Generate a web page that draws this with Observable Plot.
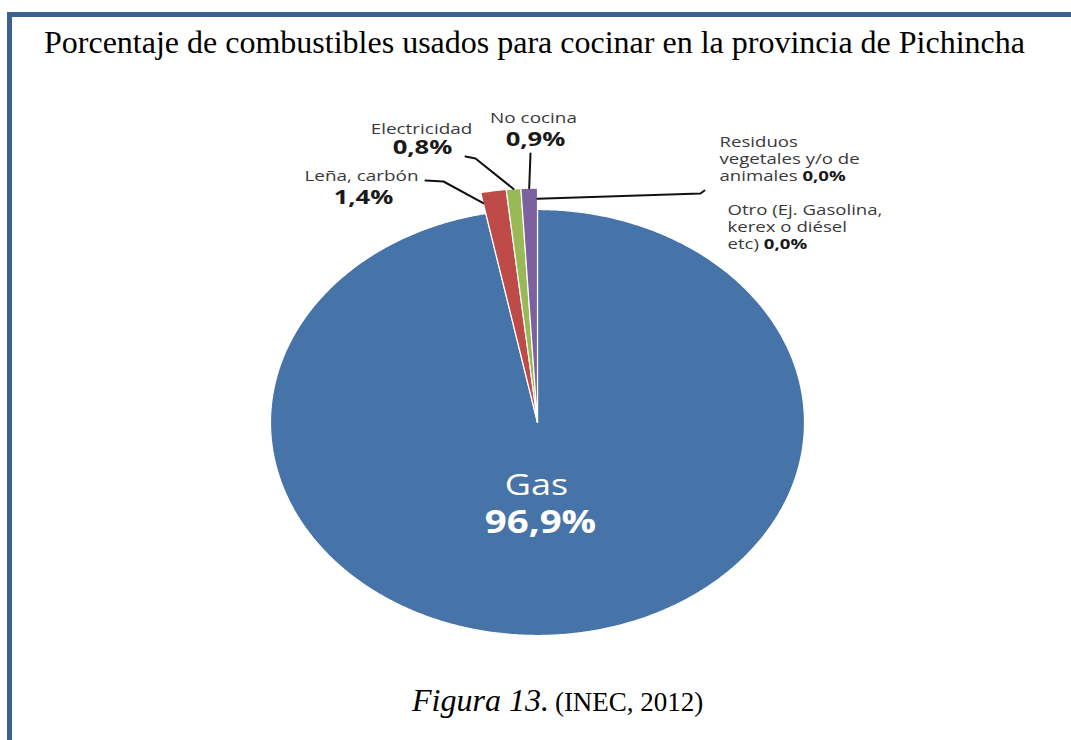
<!DOCTYPE html>
<html><head><meta charset="utf-8">
<script src="https://cdn.jsdelivr.net/npm/d3@7"></script>
<script src="https://cdn.jsdelivr.net/npm/@observablehq/plot@0.6"></script>
<style>
body{margin:0;background:#fff;}
#page{position:relative;width:1071px;height:740px;overflow:hidden;background:#fff;}
.bar{position:absolute;background:#3B6190;}
#chart{position:absolute;left:0;top:0;}
#title{position:absolute;left:44px;top:26px;font-family:"Liberation Serif","Times New Roman",serif;font-size:32px;line-height:32px;color:#000;white-space:nowrap;}
#caption{position:absolute;left:412px;top:684px;font-family:"Liberation Serif","Times New Roman",serif;line-height:32px;color:#000;white-space:nowrap;}
</style></head>
<body><div id="page">
<div class="bar" style="left:7px;top:12px;width:1064px;height:5px"></div>
<div class="bar" style="left:7px;top:12px;width:5px;height:728px"></div>
<div id="chart"></div>
<div id="title">Porcentaje de combustibles usados para cocinar en la provincia de Pichincha</div>
<div id="caption"><i style="font-size:32px">Figura 13.</i> <span style="font-size:27px;margin-left:2px">(INEC, 2012)</span></div>
</div>
<script>
// ---- data ----
const categories = ["Gas", "Leña, carbón", "Electricidad", "No cocina", "Residuos vegetales y/o de animales", "Otro (Ej. Gasolina, kerex o diésel etc)"];
const values = [96.9, 1.4, 0.8, 0.9, 0.0, 0.0];
const valueLabels = ["96,9%", "1,4%", "0,8%", "0,9%", "0,0%", "0,0%"];
const nameLines = ["Gas", "Leña, carbón", "Electricidad", "No cocina", "Residuos\nvegetales y/o de\nanimales", "Otro (Ej. Gasolina,\nkerex o diésel\netc)"];

// ---- styles / layout ----
const colors = ["#4774A8", "#BE4B48", "#98B954", "#7D60A0", "#4BACC6", "#F79646"];
const W = 1071, H = 740, cx = 537, cy = 422, rx = 267, ry = 213;
const px2x = p => (p - cx) / rx;
const py2y = p => (cy - p) / ry;
const mainRadius = 1.0, smallRadius = 1.1;

// slice geometry from values
const total = d3.sum(values);
let acc = 0;
const slices = categories.map((c, i) => {
  const a0 = acc / total * 2 * Math.PI; acc += values[i];
  const a1 = acc / total * 2 * Math.PI;
  return {cat: c, i, a0, a1, mid: (a0 + a1) / 2, r: i === 0 ? mainRadius : smallRadius};
});
const polar = (a, r) => ({x: r * Math.sin(a), y: r * Math.cos(a)});

const slicePts = [];
for (const s of slices) {
  if (s.a1 - s.a0 <= 0) continue;
  const n = Math.max(3, Math.ceil((s.a1 - s.a0) / (Math.PI / 360)));
  slicePts.push({cat: s.cat, x: 0, y: 0});
  for (let k = 0; k <= n; ++k) {
    const p = polar(s.a0 + (s.a1 - s.a0) * k / n, s.r);
    slicePts.push({cat: s.cat, ...p});
  }
  slicePts.push({cat: s.cat, x: 0, y: 0});
}

// label placement (pixels)
const labelLayout = [
  {i: 0, nx: 536, ny: 485, vx: 540, vy: 522},
  {i: 1, nx: 361, ny: 176, vx: 363, vy: 197},
  {i: 2, nx: 421, ny: 129, vx: 422, vy: 147},
  {i: 3, nx: 533, ny: 118, vx: 535, vy: 139},
  {i: 4, nx: 719, ny: 158},
  {i: 5, nx: 727, ny: 226}
];
// leader lines: label-side pixel points + slice anchor (angle key, radius)
const leaders = [
  {i: 1, pts: [[425, 180], [443, 181]], at: "a0", r: 1.05, after: false},
  {i: 2, pts: [[465, 156], [475, 158]], at: "mid", r: 1.1, after: false},
  {i: 3, pts: [[530, 153]], at: "mid", r: 1.1, after: false},
  {i: 4, pts: [[700, 193], [704, 190]], at: "a1", r: 1.05, after: true, from: 3}
];
const leaderPts = [];
for (const L of leaders) {
  const s = slices[L.from ?? L.i];
  const anchor = polar(s[L.at], L.r);
  const lab = L.pts.map(([px, py]) => ({id: L.i, x: px2x(px), y: py2y(py)}));
  const seq = L.after ? [{id: L.i, ...anchor}, ...lab] : [...lab, {id: L.i, ...anchor}];
  leaderPts.push(...seq);
}

const L = labelLayout;
const gasLab = L.filter(d => d.i === 0);
const topLab = L.filter(d => d.i >= 1 && d.i <= 3);
const sideLab = L.filter(d => d.i >= 4);

const textScales = [1.2, 1.2, 1.35, 1.35, 1.33];

const chart = Plot.plot({
  width: W, height: H, margin: 0,
  x: {domain: [px2x(0), px2x(W)], axis: null},
  y: {domain: [py2y(H), py2y(0)], axis: null},
  color: {domain: categories, range: colors},
  style: {background: "transparent", fontFamily: "'Open Sans', sans-serif"},
  marks: [
    Plot.line(slicePts, {x: "x", y: "y", z: "cat", fill: "cat", stroke: "white", strokeWidth: 1.2, curve: "linear"}),
    Plot.line(leaderPts, {x: "x", y: "y", z: "id", stroke: "#111", strokeWidth: 2}),
    Plot.text(gasLab, {x: d => px2x(d.nx), y: d => py2y(d.ny), text: d => nameLines[d.i], fill: "white", fontSize: 30, textAnchor: "middle", lineAnchor: "middle"}),
    Plot.text(gasLab, {x: d => px2x(d.vx), y: d => py2y(d.vy), text: d => valueLabels[d.i], fill: "white", fontSize: 32, fontWeight: "bold", textAnchor: "middle", lineAnchor: "middle"}),
    Plot.text(topLab, {x: d => px2x(d.nx), y: d => py2y(d.ny), text: d => nameLines[d.i], fill: "#3a3a3a", fontSize: 14, textAnchor: "middle", lineAnchor: "middle"}),
    Plot.text(topLab, {x: d => px2x(d.vx), y: d => py2y(d.vy), text: d => valueLabels[d.i], fill: "#1a1a1a", fontSize: 19, fontWeight: "bold", textAnchor: "middle", lineAnchor: "middle"}),
    Plot.text(sideLab, {x: d => px2x(d.nx), y: d => py2y(d.ny), text: d => nameLines[d.i] + " " + valueLabels[d.i], fill: "#3a3a3a", fontSize: 14, lineHeight: 1.22, textAnchor: "start", lineAnchor: "middle"})
  ]
});

// stretch label text horizontally like the reference image and bold inline values
const groups = chart.querySelectorAll('g[aria-label="text"]');
groups.forEach((g, gi) => {
  const s = textScales[gi] ?? 1;
  g.querySelectorAll("text").forEach(t => {
    let tr = t.getAttribute("transform");
    if (!tr) {
      const x = +t.getAttribute("x") || 0, y = +t.getAttribute("y") || 0;
      t.removeAttribute("x"); t.removeAttribute("y");
      tr = `translate(${x},${y})`;
    }
    t.setAttribute("transform", tr + ` scale(${s},1)`);
    const nodes = t.querySelectorAll("tspan").length ? t.querySelectorAll("tspan") : [t];
    nodes.forEach(n => {
      const m = /^(.*\s)(\d+,\d+%)$/.exec(n.textContent);
      if (m && gi === 4) {
        n.textContent = m[1];
        const b = document.createElementNS("http://www.w3.org/2000/svg", "tspan");
        b.setAttribute("font-weight", "bold");
        b.setAttribute("fill", "#1a1a1a");
        b.textContent = m[2];
        n.appendChild(b);
      }
    });
  });
});
document.getElementById("chart").appendChild(chart);
</script>
</body></html>
